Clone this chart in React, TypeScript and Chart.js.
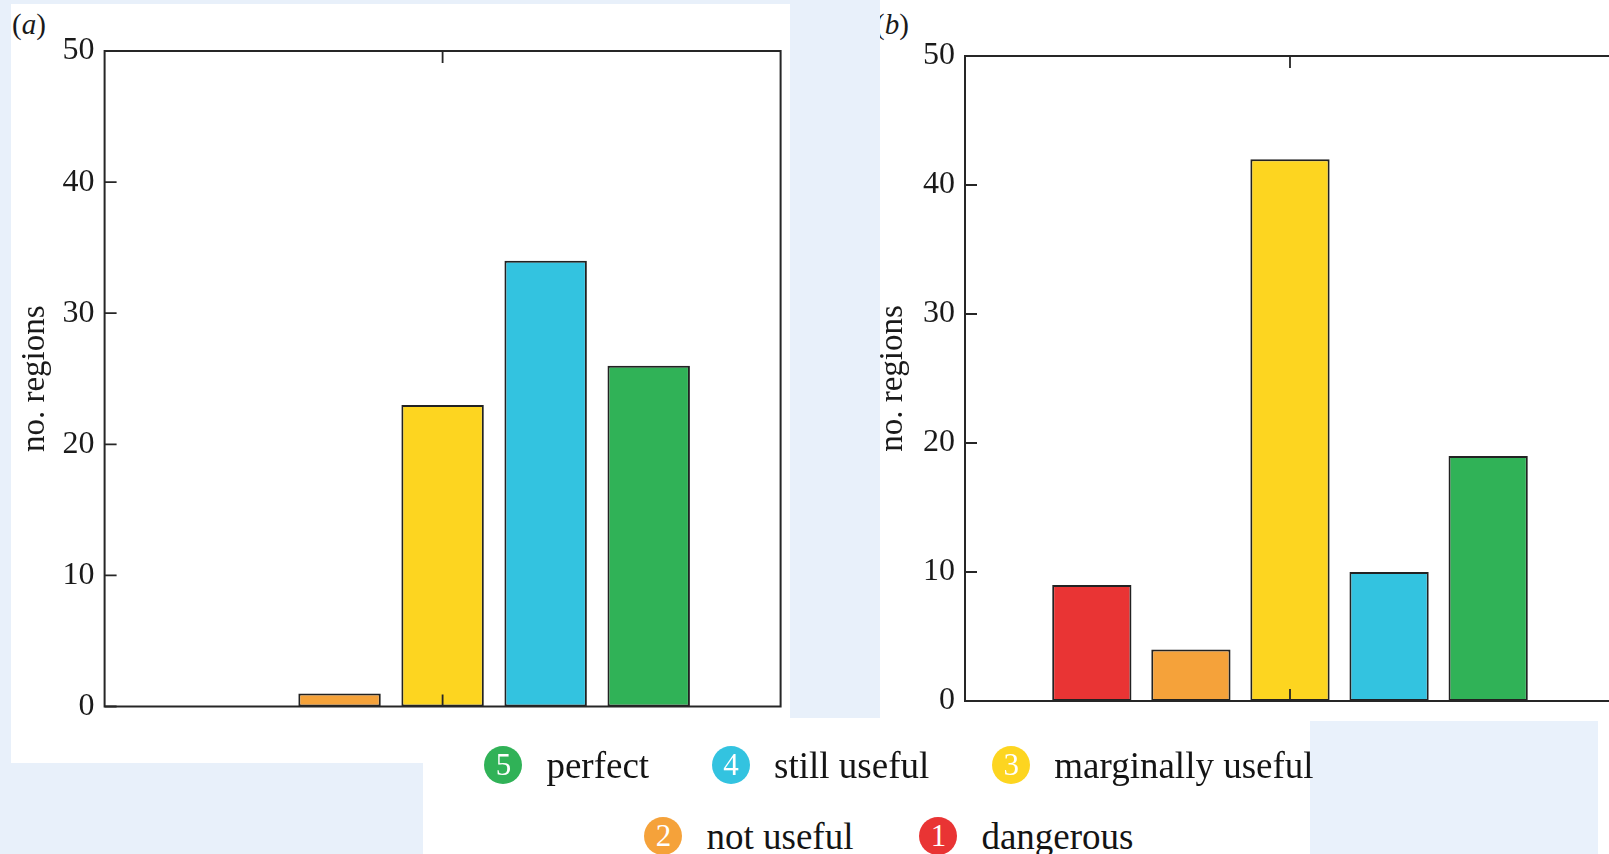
import React, { useEffect, useRef } from 'react';
import { Chart, registerables } from 'chart.js';

Chart.register(...registerables);

// Usefulness scores, 1 (dangerous) to 5 (perfect)
const categories = ['dangerous', 'not useful', 'marginally useful', 'still useful', 'perfect'];
const scores = [1, 2, 3, 4, 5];

// Number of regions per score, panel (a) and panel (b)
const regionsA = [0, 1, 23, 34, 26];
const regionsB = [9, 4, 42, 10, 19];

// Axes
const yTicks = [0, 10, 20, 30, 40, 50];
const xTicks = [3];
const xMin = -0.28;
const xMax = 6.28;

const barColors = ['#e93434', '#f5a23a', '#fdd520', '#33c3e0', '#30b257'];

// Legend layout: score order per row
const legendRows = [
  [5, 4, 3],
  [2, 1],
];

const SERIF = "'Liberation Serif', 'Times New Roman', serif";

type Frame = { left: number; top: number; right: number; bottom: number };

// Box around the plot area plus inward-pointing tick marks
const framePlugin = {
  id: 'frameBox',
  afterDraw(chart: any) {
    const { ctx, chartArea: a, scales } = chart;
    const x = scales.x;
    const y = scales.y;
    const tl = 12;
    ctx.save();
    ctx.strokeStyle = '#262626';
    ctx.lineWidth = 2;
    ctx.strokeRect(a.left, a.top, a.right - a.left, a.bottom - a.top);
    ctx.lineWidth = 1.8;
    ctx.beginPath();
    y.ticks.forEach((t: any) => {
      const py = y.getPixelForValue(t.value);
      ctx.moveTo(a.left, py);
      ctx.lineTo(a.left + tl, py);
    });
    x.ticks.forEach((t: any) => {
      const px = x.getPixelForValue(t.value);
      ctx.moveTo(px, a.bottom);
      ctx.lineTo(px, a.bottom - tl);
      ctx.moveTo(px, a.top);
      ctx.lineTo(px, a.top + tl);
    });
    ctx.stroke();
    ctx.restore();
  },
};

function makeConfig(values: number[], frame: Frame, w: number, h: number, titlePad: number): any {
  return {
    type: 'bar',
    data: {
      datasets: [
        {
          label: 'no. regions',
          data: scores.map((s, i) => ({ x: s, y: values[i] })),
          backgroundColor: barColors,
          borderColor: '#222222',
          borderWidth: 2,
          borderSkipped: false,
          barPercentage: 0.8,
          categoryPercentage: 1,
        },
      ],
    },
    options: {
      animation: false,
      responsive: false,
      events: [],
      layout: {
        padding: { left: 0, top: frame.top, right: w - frame.right, bottom: h - frame.bottom },
      },
      plugins: { legend: { display: false }, tooltip: { enabled: false } },
      scales: {
        x: {
          type: 'linear',
          display: false,
          offset: false,
          grid: { offset: false },
          min: xMin,
          max: xMax,
          afterBuildTicks: (s: any) => {
            s.ticks = xTicks.map((v) => ({ value: v }));
          },
        },
        y: {
          type: 'linear',
          min: yTicks[0],
          max: yTicks[yTicks.length - 1],
          afterBuildTicks: (s: any) => {
            s.ticks = yTicks.map((v) => ({ value: v }));
          },
          afterFit: (s: any) => {
            s.width = frame.left;
          },
          grid: { display: false, drawTicks: false },
          border: { display: false },
          ticks: { padding: 10, color: '#1a1a1a', font: { family: SERIF, size: 32 } },
          title: {
            display: true,
            text: 'no. regions',
            color: '#1a1a1a',
            font: { family: SERIF, size: 33 },
            padding: { top: titlePad, bottom: 0 },
          },
        },
      },
    },
    plugins: [framePlugin],
  };
}

function BarPanel(props: {
  values: number[];
  frame: Frame;
  left: number;
  top: number;
  width: number;
  height: number;
  titlePad: number;
}) {
  const ref = useRef<HTMLCanvasElement | null>(null);
  const { values, frame, left, top, width, height, titlePad } = props;
  useEffect(() => {
    if (!ref.current) return;
    const chart = new Chart(ref.current, makeConfig(values, frame, width, height, titlePad));
    return () => chart.destroy();
  }, []);
  return (
    <canvas
      ref={ref}
      width={width}
      height={height}
      style={{ position: 'absolute', left, top, width, height, display: 'block' }}
    />
  );
}

function LegendItem({ score }: { score: number }) {
  const i = scores.indexOf(score);
  return (
    <div style={{ display: 'flex', alignItems: 'center' }}>
      <div
        style={{
          width: 38,
          height: 38,
          borderRadius: '50%',
          background: barColors[i],
          color: '#ffffff',
          fontFamily: SERIF,
          fontSize: 31,
          lineHeight: '38px',
          textAlign: 'center',
          marginRight: 24,
        }}
      >
        {score}
      </div>
      <span style={{ fontFamily: SERIF, fontSize: 37, lineHeight: 1, color: '#141414', whiteSpace: 'nowrap' }}>
        {categories[i]}
      </span>
    </div>
  );
}

export default function App() {
  const bg = '#e8f0fa';
  const rowCenters = [765, 836];
  const rowLefts = [407, 397];
  const rowGaps = [63, 66];
  return (
    <div
      style={{
        position: 'absolute',
        left: 0,
        top: 0,
        width: 1609,
        height: 854,
        overflow: 'hidden',
        background: bg,
      }}
    >
      {/* white sheets behind the two panels and the legend */}
      <div style={{ position: 'absolute', left: 11, top: 4, width: 779, height: 759, background: '#fff' }} />
      <div style={{ position: 'absolute', left: 423, top: 718, width: 1186, height: 136, background: '#fff' }} />
      <div
        style={{
          position: 'absolute',
          left: 880,
          top: 0,
          width: 729,
          height: 718,
          background: '#fff',
          overflow: 'hidden',
        }}
      >
        <span
          style={{
            position: 'absolute',
            left: -5,
            top: 10,
            fontFamily: SERIF,
            fontSize: 29,
            lineHeight: 1,
            color: '#1a1a1a',
          }}
        >
          (<i>b</i>)
        </span>
      </div>
      <div style={{ position: 'absolute', left: 1310, top: 721, width: 288, height: 133, background: '#e9f1fb' }} />

      <span
        style={{
          position: 'absolute',
          left: 12,
          top: 10,
          fontFamily: SERIF,
          fontSize: 29,
          lineHeight: 1,
          color: '#1a1a1a',
        }}
      >
        (<i>a</i>)
      </span>

      <BarPanel
        values={regionsA}
        frame={{ left: 104.6, top: 51, right: 780.6, bottom: 706.5 }}
        left={0}
        top={0}
        width={800}
        height={760}
        titlePad={16}
      />
      <BarPanel
        values={regionsB}
        frame={{ left: 105, top: 56, right: 755, bottom: 701 }}
        left={860}
        top={0}
        width={780}
        height={760}
        titlePad={14}
      />

      {legendRows.map((row, r) => (
        <div
          key={r}
          style={{
            position: 'absolute',
            left: rowLefts[r],
            width: 984,
            top: rowCenters[r] - 25,
            height: 50,
            display: 'flex',
            alignItems: 'center',
            justifyContent: 'center',
            gap: rowGaps[r],
          }}
        >
          {row.map((s) => (
            <LegendItem key={s} score={s} />
          ))}
        </div>
      ))}
    </div>
  );
}
